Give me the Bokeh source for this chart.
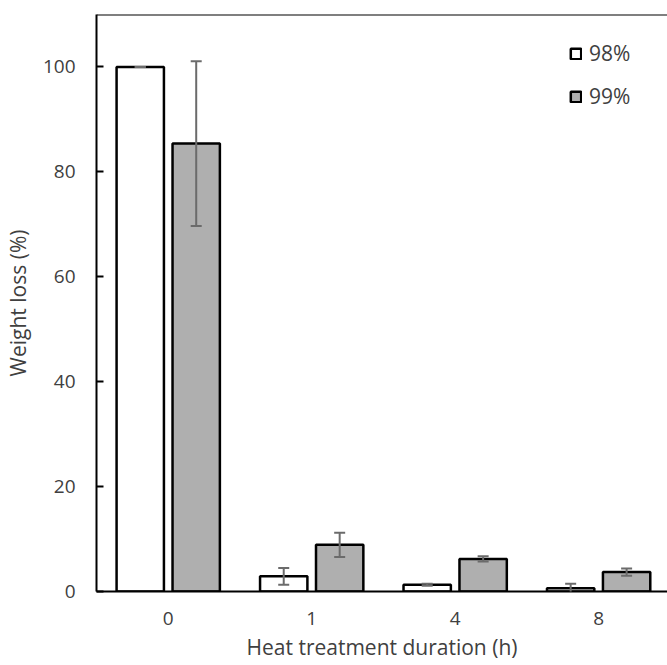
import numpy as np
from bokeh.plotting import figure
from bokeh.models import (ColumnDataSource, Range1d, FixedTicker, Whisker, TeeHead,
                          Legend, LegendItem, Span)
from bokeh.embed import file_html
from bokeh.resources import INLINE

# ---- data ----
categories = ["0", "1", "4", "8"]
series_names = ["98%", "99%"]
values_98 = [100.0, 2.9, 1.3, 0.6]
errors_98 = [0.0, 1.6, 0.2, 0.9]
values_99 = [85.4, 8.9, 6.2, 3.7]
errors_99 = [15.7, 2.3, 0.5, 0.7]
y_ticks = [0, 20, 40, 60, 80, 100]
y_max = 110

FONT = "Open Sans"
TXT = "#404040"

idx = np.arange(len(categories)) + 0.5
off = 0.195
bw = 0.33

src98 = ColumnDataSource(dict(x=idx - off, top=values_98,
                              lo=np.array(values_98) - np.array(errors_98),
                              hi=np.array(values_98) + np.array(errors_98)))
src99 = ColumnDataSource(dict(x=idx + off, top=values_99,
                              lo=np.array(values_99) - np.array(errors_99),
                              hi=np.array(values_99) + np.array(errors_99)))

p = figure(width=667, height=665, output_backend="svg", toolbar_location=None,
           x_range=Range1d(0, 3.98), y_range=Range1d(0, y_max),
           min_border_left=96, min_border_right=0, min_border_top=14, min_border_bottom=74)
p.outline_line_color = None
p.grid.grid_line_color = None
p.background_fill_color = "white"
p.border_fill_color = "white"

r98 = p.vbar(x="x", top="top", width=bw, source=src98, fill_color="white",
             line_color="black", line_width=2.5)
r99 = p.vbar(x="x", top="top", width=bw, source=src99, fill_color="#afafaf",
             line_color="black", line_width=2.5)

for s in (src98, src99):
    w = Whisker(base="x", lower="lo", upper="hi", source=s, line_color="#6b6b6b", line_width=2,
                level="overlay",
                upper_head=TeeHead(size=11, line_color="#6b6b6b", line_width=2),
                lower_head=TeeHead(size=11, line_color="#6b6b6b", line_width=2))
    p.add_layout(w)

p.add_layout(Span(location=y_max, dimension="width", line_color="black", line_width=2))

# axes
p.xaxis.ticker = FixedTicker(ticks=list(idx))
p.xaxis.major_label_overrides = {float(v): c for v, c in zip(idx, categories)}
p.xaxis.major_tick_line_color = None
p.xaxis.minor_tick_line_color = None
p.xaxis.axis_line_width = 2
p.xaxis.axis_line_color = "black"
p.xaxis.major_label_standoff = 14
p.xaxis.axis_label = "Heat treatment duration (h)"
p.xaxis.axis_label_standoff = 5

p.yaxis.ticker = FixedTicker(ticks=y_ticks)
p.yaxis.minor_tick_line_color = None
p.yaxis.major_tick_in = 7
p.yaxis.major_tick_out = 0
p.yaxis.major_tick_line_width = 2
p.yaxis.major_tick_line_color = "black"
p.yaxis.axis_line_width = 2
p.yaxis.axis_line_color = "black"
p.yaxis.major_label_standoff = 21
p.yaxis.axis_label = "Weight loss (%)"
p.yaxis.axis_label_standoff = 8

for ax in (p.xaxis, p.yaxis):
    ax.major_label_text_font = FONT
    ax.major_label_text_font_size = "19px"
    ax.major_label_text_color = TXT
    ax.axis_label_text_font = FONT
    ax.axis_label_text_font_size = "21px"
    ax.axis_label_text_font_style = "normal"
    ax.axis_label_text_color = TXT

legend = Legend(items=[LegendItem(label=series_names[0], renderers=[r98]),
                       LegendItem(label=series_names[1], renderers=[r99])],
                location=(473, 481), glyph_width=13, glyph_height=13, label_height=13,
                spacing=15, padding=0, margin=0, label_standoff=7,
                label_text_font=FONT, label_text_font_size="21px", label_text_color=TXT,
                background_fill_alpha=0, border_line_color=None)
p.add_layout(legend)

open("out.html", "w").write(file_html(p, INLINE))
